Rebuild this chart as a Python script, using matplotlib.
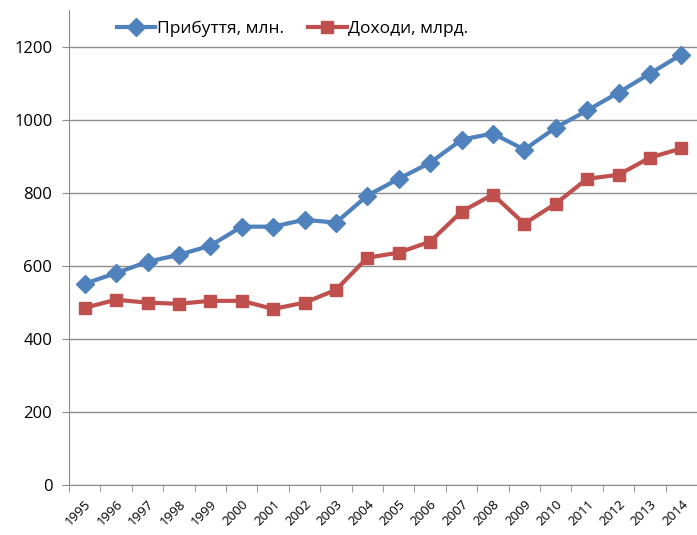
import numpy as np
import matplotlib.pyplot as plt

years = [str(y) for y in range(1995, 2015)]
arrivals = [551, 580, 611, 630, 655, 707, 707, 726, 718, 792,
            838, 882, 945, 962, 918, 978, 1025, 1074, 1126, 1178]
revenue = [485, 507, 499, 496, 504, 504, 482, 499, 534, 622,
           636, 666, 748, 795, 715, 770, 838, 849, 896, 921]

plt.rcParams['font.family'] = ['Open Sans', 'DejaVu Sans']

fig = plt.figure(figsize=(6.97, 5.35), dpi=100)
ax = fig.add_axes([69 / 697, 50 / 535, 628 / 697, 475 / 535])

x = np.arange(len(years))
ax.plot(x, arrivals, color='#4F81BD', lw=3, marker='D', ms=9,
        label='Прибуття, млн.', clip_on=False, zorder=3)
ax.plot(x, revenue, color='#C0504D', lw=3, marker='s', ms=9,
        label='Доходи, млрд.', clip_on=False, zorder=3)

ax.set_xlim(-0.5, len(years) - 0.5)
ax.set_ylim(0, 1300)
ax.set_yticks(range(0, 1201, 200))
ax.yaxis.grid(True, color='#8c8c8c', lw=1)
ax.set_axisbelow(True)

ax.set_xticks(x)
ax.set_xticklabels(years, rotation=45, ha='right', rotation_mode='anchor', fontsize=9.5)
ax.set_xticks(np.arange(-0.5, len(years)), minor=True)
ax.tick_params(axis='x', which='major', length=0, pad=9)
ax.tick_params(axis='x', which='minor', length=5, color='#8c8c8c')
ax.tick_params(axis='y', length=5, color='#8c8c8c', labelsize=12, pad=7)

for s in ['top', 'right']:
    ax.spines[s].set_visible(False)
ax.spines['left'].set_color('#8c8c8c')
ax.spines['bottom'].set_color('#8c8c8c')

ax.legend(loc='upper left', bbox_to_anchor=(0.06, 1.0), ncol=2, frameon=False,
          fontsize=12.5, handlelength=2.2, handletextpad=0.1, columnspacing=1.4,
          borderaxespad=0.2)

fig.savefig('out.png', dpi=100)
